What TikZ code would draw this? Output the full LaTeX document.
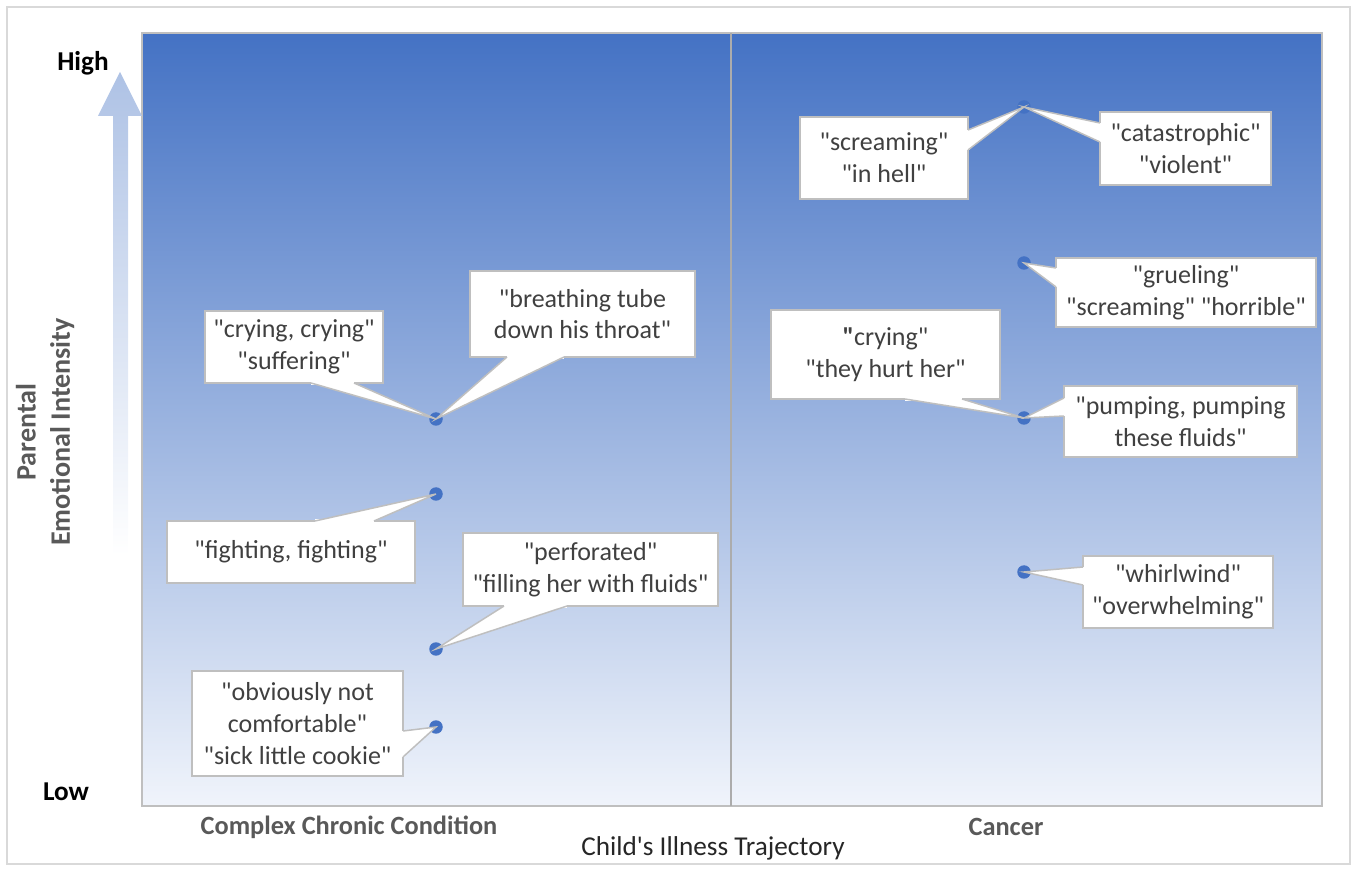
\documentclass[tikz,border=0pt]{standalone}
\usepackage{fontspec}
\setmainfont{Carlito}[Ligatures=TeXOff]
\usetikzlibrary{calc}
\definecolor{topblue}{RGB}{68,114,196}
\definecolor{midblue}{RGB}{160,183,225}
\definecolor{botblue}{RGB}{240,244,251}
\definecolor{arrowc}{RGB}{174,194,229}
\definecolor{boxline}{RGB}{191,191,191}
\definecolor{txtgrey}{RGB}{64,64,64}
\definecolor{axgrey}{RGB}{89,89,89}
\definecolor{framec}{RGB}{217,217,217}
\definecolor{dotblue}{RGB}{68,114,196}
\newcommand\mycallout[4]{%
  \fill[white] #2 -- #3 -- (#4.center) -- cycle;
  \draw[white, line width=1.8pt] #2 -- #3;
  \draw[calloutline] #2 -- (#4.center) -- #3;
}
\begin{document}
\begin{tikzpicture}[x=0.02cm,y=-0.02cm,
  calloutbox/.style 2 args={draw=boxline, line width=0.85pt, fill=white, inner sep=0pt,
    minimum width=#1*0.02cm, minimum height=#2*0.02cm,
    align=center, text=txtgrey, font=\fontsize{14.8}{18.1}\selectfont},
  calloutline/.style={draw=boxline, line width=0.85pt, line join=miter},
  dot/.style={circle, fill=dotblue, minimum size=0.27cm, inner sep=0pt},
  levellabel/.style={font=\bfseries\fontsize{15.5}{18}\selectfont, text=black},
  catlabel/.style={font=\bfseries\fontsize{15}{18}\selectfont, text=axgrey},
  ]
\useasboundingbox (0,0) rectangle (1357,871);
\draw[framec, line width=0.8pt] (7,7) rectangle (1350,864);
% plot area
\shade[top color=topblue, middle color=midblue, bottom color=botblue] (142,33) rectangle (1322,806);
\draw[boxline, line width=0.6pt] (142,33) rectangle (1322,806);
\draw[boxline!70!gray, line width=0.8pt] (731,33) -- (731,806);
% arrow
\shade[top color=arrowc, middle color=arrowc!60!white, bottom color=white]
  (113,555) -- (113,116) -- (98,116) -- (120,72) -- (142,116) -- (128,116) -- (128,555) -- cycle;
% labels
\node[levellabel] (high) at (83,63) {High};
\node[levellabel] (low) at (66,792) {Low};
\node[rotate=90, align=center, font=\bfseries\fontsize{16}{19.5}\selectfont, text=axgrey] (ylab) at (45,432) {Parental\\Emotional Intensity};
\node[catlabel] (ccc) at (349,827) {Complex Chronic Condition};
\node[catlabel] (cancer) at (1006,827) {Cancer};
\node[font=\fontsize{15.5}{18}\selectfont, text=black!85] (xlab) at (713,848) {Child's Illness Trajectory};
% dots
\node[dot] (d1) at (436,419) {};
\node[dot] (d2) at (436,494) {};
\node[dot] (d3) at (436,649) {};
\node[dot] (d4) at (436,727) {};
\node[dot] (d5) at (1024,107) {};
\node[dot] (d6) at (1024,263) {};
\node[dot] (d7) at (1024,418) {};
\node[dot] (d8) at (1024,572) {};
% callouts
\node[calloutbox={178}{72}] (c1) at (294,347) {"crying, crying"\\"suffering"};
\mycallout{c1}{(311,383)}{(354,383)}{d1}
\node[calloutbox={225}{86}] (c2) at (582.5,314) {"breathing tube\\down his throat"};
\mycallout{c2}{(507,357)}{(564,357)}{d1}
\node[calloutbox={248}{62}] (c3) at (291,552) {"fighting, fighting"};
\mycallout{c3}{(315,521)}{(374,521)}{d2}
\node[calloutbox={255}{73}] (c4) at (590.5,569.5) {"perforated"\\"filling her with fluids"};
\mycallout{c4}{(504,606)}{(567,606)}{d3}
\node[calloutbox={211}{105}] (c5) at (297.5,723.5) {"obviously not\\comfortable"\\"sick little cookie"};
\mycallout{c5}{(403,731)}{(403,757)}{d4}
\node[calloutbox={168}{82}] (c6) at (884,158) {"screaming"\\"in hell"};
\mycallout{c6}{(968,130)}{(968,150)}{d5}
\node[calloutbox={171}{73}] (c7) at (1185.5,148.5) {"catastrophic"\\"violent"};
\mycallout{c7}{(1100,123)}{(1100,142)}{d5}
\node[calloutbox={260}{69}] (c8) at (1186,292.5) {"grueling"\\"screaming" "horrible"};
\mycallout{c8}{(1056,268)}{(1056,287)}{d6}
\node[calloutbox={229}{89}] (c9) at (885.5,354.5) {\textbf{"}crying"\\"they hurt her"};
\mycallout{c9}{(905,399)}{(962,399)}{d7}
\node[calloutbox={233}{71}] (c10) at (1180.5,421.5) {"pumping, pumping\\these fluids"};
\mycallout{c10}{(1064,398)}{(1064,416)}{d7}
\node[calloutbox={190}{72}] (c11) at (1178,592) {"whirlwind"\\"overwhelming"};
\mycallout{c11}{(1083,567)}{(1083,585)}{d8}
\end{tikzpicture}
\end{document}
